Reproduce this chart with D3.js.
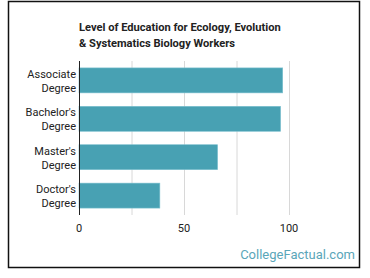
<!DOCTYPE html>
<html lang="en">
<head>
    <meta charset="UTF-8">
    <title>Level of Education for Ecology, Evolution & Systematics Biology Workers</title>
    <script src="https://d3js.org/d3.v7.min.js"></script>
    <style>
        body {
            margin: 0;
            padding: 0;
            background-color: #fff;
            font-family: Roboto, Arial, sans-serif;
        }

        .tick-label {
            font-size: 11px;
            fill: #222;
        }
    </style>
</head>
<body>
<svg id="chart"></svg>

<script>
    // Chart data
    const degrees = ["Associate Degree", "Bachelor's Degree", "Master's Degree", "Doctor's Degree"];
    const counts = [97, 96, 66, 38.5];
    const xTicks = [0, 50, 100];
    const gridTicks = [0, 25, 50, 75, 100];

    const width = 370, height = 278;
    const margin = { top: 61, right: 81, bottom: 63, left: 79 };

    const svg = d3.select('#chart')
        .attr('width', width)
        .attr('height', height);

    // Outer frame
    svg.append('rect')
        .attr('x', 8.5)
        .attr('y', 1.5)
        .attr('width', 351)
        .attr('height', 266)
        .attr('fill', 'none')
        .attr('stroke', '#111')
        .attr('stroke-width', 1.5);

    // Title
    const title = svg.append('text')
        .attr('x', 79)
        .attr('y', 31)
        .attr('font-size', '11.1px')
        .attr('font-weight', 'bold')
        .attr('fill', '#222');
    title.append('tspan').attr('x', 79).text('Level of Education for Ecology, Evolution');
    title.append('tspan').attr('x', 79).attr('dy', 15.5).text('& Systematics Biology Workers');

    const x = d3.scaleLinear()
        .domain([0, 100])
        .range([margin.left, width - margin.right]);

    const y = d3.scaleBand()
        .domain(degrees)
        .range([margin.top, height - margin.bottom])
        .paddingInner(0.35)
        .paddingOuter(0.18);

    // Gridlines
    svg.append('g')
        .selectAll('line')
        .data(gridTicks.slice(1))
        .join('line')
        .attr('x1', d => x(d) + 0.5)
        .attr('x2', d => x(d) + 0.5)
        .attr('y1', margin.top)
        .attr('y2', height - margin.bottom)
        .attr('stroke', '#d8d8d8')
        .attr('stroke-width', 1);

    // Bars
    svg.append('g')
        .selectAll('rect')
        .data(degrees)
        .join('rect')
        .attr('x', x(0))
        .attr('y', d => y(d))
        .attr('width', (d, i) => x(counts[i]) - x(0))
        .attr('height', y.bandwidth())
        .attr('fill', '#48a1b3')
        .attr('stroke', '#7cc0cf')
        .attr('stroke-width', 0.6);

    // Y axis line
    svg.append('line')
        .attr('x1', x(0) + 0.5)
        .attr('x2', x(0) + 0.5)
        .attr('y1', margin.top)
        .attr('y2', height - margin.bottom)
        .attr('stroke', '#222')
        .attr('stroke-width', 1);

    // Category labels (two lines each)
    const labels = svg.append('g')
        .selectAll('text')
        .data(degrees)
        .join('text')
        .attr('class', 'tick-label')
        .attr('text-anchor', 'end')
        .attr('y', d => y(d) + y.bandwidth() / 2 - 2.5);
    labels.append('tspan')
        .attr('x', x(0) - 3)
        .text(d => d.split(' ')[0]);
    labels.append('tspan')
        .attr('x', x(0) - 3)
        .attr('dy', 14)
        .text(d => d.split(' ')[1]);

    // X tick labels
    svg.append('g')
        .selectAll('text')
        .data(xTicks)
        .join('text')
        .attr('class', 'tick-label')
        .attr('text-anchor', 'middle')
        .attr('x', d => x(d))
        .attr('y', height - margin.bottom + 17)
        .text(d => d);

    // Source credit
    svg.append('text')
        .attr('x', 355)
        .attr('y', 259)
        .attr('text-anchor', 'end')
        .attr('font-size', '13px')
        .attr('fill', '#5aa6b9')
        .text('CollegeFactual.com');
</script>
</body>
</html>
